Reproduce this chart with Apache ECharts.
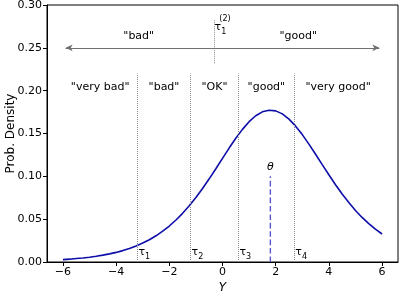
<!DOCTYPE html>
<html>
<head>
<meta charset="utf-8">
<script src="https://cdn.jsdelivr.net/npm/echarts@6/dist/echarts.min.js"></script>
<style>
html,body{margin:0;padding:0;background:#fff;}
#EchartDiv{width:400px;height:292px;}
</style>
</head>
<body>
<div id="EchartDiv"></div>
<script>
// density curve, every 0.25
var arrY = [-6,-5.75,-5.5,-5.25,-5,-4.75,-4.5,-4.25,-4,-3.75,-3.5,-3.25,-3,-2.75,-2.5,-2.25,-2,-1.75,-1.5,-1.25,-1,-0.75,-0.5,-0.25,
	0,0.25,0.5,0.75,1,1.25,1.5,1.75,2,2.25,2.5,2.75,3,3.25,3.5,3.75,4,4.25,4.5,4.75,5,5.25,5.5,5.75,6];
var arrDens = [0.0028,0.0033,0.0040,0.0047,0.0056,0.0067,0.0080,0.0095,0.0112,0.0133,0.0158,0.0187,0.0221,0.0260,0.0306,0.0360,0.0420,0.0490,0.0568,0.0656,0.0753,0.0858,0.0971,0.1089,
	0.1210,0.1330,0.1444,0.1548,0.1638,0.1707,0.1753,0.1772,0.1764,0.1729,0.1668,0.1586,0.1487,0.1376,0.1258,0.1137,0.1018,0.0902,0.0794,0.0694,0.0602,0.0520,0.0447,0.0383,0.0327];

// thresholds
var arrTau = [-3.2,-1.2,0.6,2.7];
var arrTauName = ['1','2','3','4'];
var tauTop = 0.22;
var tau12 = -0.3;
var theta = 1.8;
var thetaTop = 0.10;

// category texts
var arrCatX = [-4.6,-2.2,-0.3,1.65,4.35];
var arrCatText = ['"very bad"','"bad"','"OK"','"good"','"very good"'];
var catY = 0.204;
var arrGroupX = [-3.15,2.85];
var arrGroupText = ['"bad"','"good"'];
var groupY = 0.264;
var arrowY = 0.25;
var arrowEnds = [-5.9,5.9];

var xTicks = [-6,-4,-2,0,2,4,6];

var myChart = echarts.init(document.getElementById('EchartDiv'), null, {renderer:'canvas'});
var FONT = 'DejaVu Sans';

function fmtMinus(v){
	return v<0 ? '\u2212'+(-v) : ''+v;
}

var curveData = [];
for (var i=0;i<arrY.length;i++){
	curveData.push([arrY[i],arrDens[i]]);
}

var tauLines = [];
var tauLabels = [];
for (var i=0;i<arrTau.length;i++){
	tauLines.push([{coord:[arrTau[i],0]},{coord:[arrTau[i],tauTop]}]);
	tauLabels.push({value:[arrTau[i],0.011], name:'{t|τ}{s|'+arrTauName[i]+'}'});
}
tauLines.push([{coord:[tau12,0.232]},{coord:[tau12,0.283]}]);

var textData = [];
for (var i=0;i<arrCatX.length;i++){
	textData.push({value:[arrCatX[i],catY], name:arrCatText[i]});
}
for (var i=0;i<arrGroupX.length;i++){
	textData.push({value:[arrGroupX[i],groupY], name:arrGroupText[i]});
}

var richTau = {
	t:{fontFamily:FONT, fontSize:11, color:'#000', lineHeight:16, verticalAlign:'middle'},
	s:{fontFamily:FONT, fontSize:8, color:'#000', lineHeight:16, verticalAlign:'bottom'}
};

var option = {
	animation:false,
	grid:{
		left:47, right:2, top:5, bottom:30,
		containLabel:false, outerBoundsMode:'none',
		show:true, borderColor:'#000', borderWidth:1, backgroundColor:'#fff'
	},
	xAxis:{
		type:'value', min:-6.6, max:6.6,
		name:'Y', nameLocation:'middle', nameGap:20, nameMoveOverlap:false,
		nameTextStyle:{fontFamily:FONT, fontSize:12, fontStyle:'italic', color:'#000'},
		axisLine:{show:true, onZero:false, lineStyle:{color:'#000', width:1}},
		axisTick:{show:true, length:4, lineStyle:{color:'#000'}, customValues:xTicks},
		axisLabel:{show:true, fontFamily:FONT, fontSize:11, color:'#000', margin:5,
			customValues:xTicks, formatter:function(v){return fmtMinus(v);}},
		splitLine:{show:false}
	},
	yAxis:{
		type:'value', min:0, max:0.3, interval:0.05,
		name:'Prob. Density', nameLocation:'middle', nameGap:30, nameMoveOverlap:false,
		nameTextStyle:{fontFamily:FONT, fontSize:12, color:'#000'},
		axisLine:{show:true, onZero:false, lineStyle:{color:'#000', width:1}},
		axisTick:{show:true, length:4, lineStyle:{color:'#000'}},
		axisLabel:{fontFamily:FONT, fontSize:11, color:'#000', margin:5,
			formatter:function(v){return v.toFixed(2);}},
		splitLine:{show:false}
	},
	series:[
		{
			name:'density', type:'line', data:curveData, smooth:false,
			showSymbol:false, silent:true,
			lineStyle:{color:'#0d0da8', width:1.6},
			markLine:{
				silent:true, symbol:['none','none'], label:{show:false},
				lineStyle:{color:'#8a8a8a', type:'dotted', width:1},
				data:tauLines
			}
		},
		{
			name:'theta', type:'line', data:[[theta,0],[theta,thetaTop]],
			showSymbol:false, silent:true,
			lineStyle:{color:'#5757d0', type:'dashed', width:1.4}
		},
		{
			name:'arrows', type:'line', data:[], silent:true,
			markLine:{
				silent:true, symbol:['none','arrow'], symbolSize:[5,7], label:{show:false},
				lineStyle:{color:'#707070', type:'solid', width:1},
				data:[
					[{coord:[tau12,arrowY]},{coord:[arrowEnds[0],arrowY]}],
					[{coord:[tau12,arrowY]},{coord:[arrowEnds[1],arrowY]}]
				]
			}
		},
		{
			name:'texts', type:'scatter', symbolSize:0, silent:true, data:textData,
			itemStyle:{opacity:1},
			label:{show:true, position:'inside', formatter:'{b}', opacity:1,
				fontFamily:FONT, fontSize:11, color:'#000', textBorderWidth:0}
		},
		{
			name:'taus', type:'scatter', symbolSize:0, silent:true, data:tauLabels,
			itemStyle:{opacity:1},
			label:{show:true, position:'right', distance:1, formatter:'{b}', opacity:1, textBorderWidth:0, rich:richTau}
		},
		{
			name:'tau12', type:'scatter', symbolSize:0, silent:true,
			itemStyle:{opacity:1},
			data:[{value:[tau12,0.2737], name:'{t|τ}{s|1}'},{value:[tau12+0.18,0.284], name:'(2)'}],
			label:{show:true, position:'right', distance:0, formatter:'{b}', opacity:1, textBorderWidth:0,
				fontFamily:FONT, fontSize:8, color:'#000', rich:richTau}
		},
		{
			name:'thetaLabel', type:'scatter', symbolSize:0, silent:true,
			itemStyle:{opacity:1},
			data:[{value:[theta,0.111], name:'θ'}],
			label:{show:true, position:'inside', formatter:'{b}', opacity:1, textBorderWidth:0,
				fontFamily:FONT, fontSize:11, fontStyle:'italic', color:'#000'}
		}
	]
};
myChart.setOption(option);
</script>
</body>
</html>
